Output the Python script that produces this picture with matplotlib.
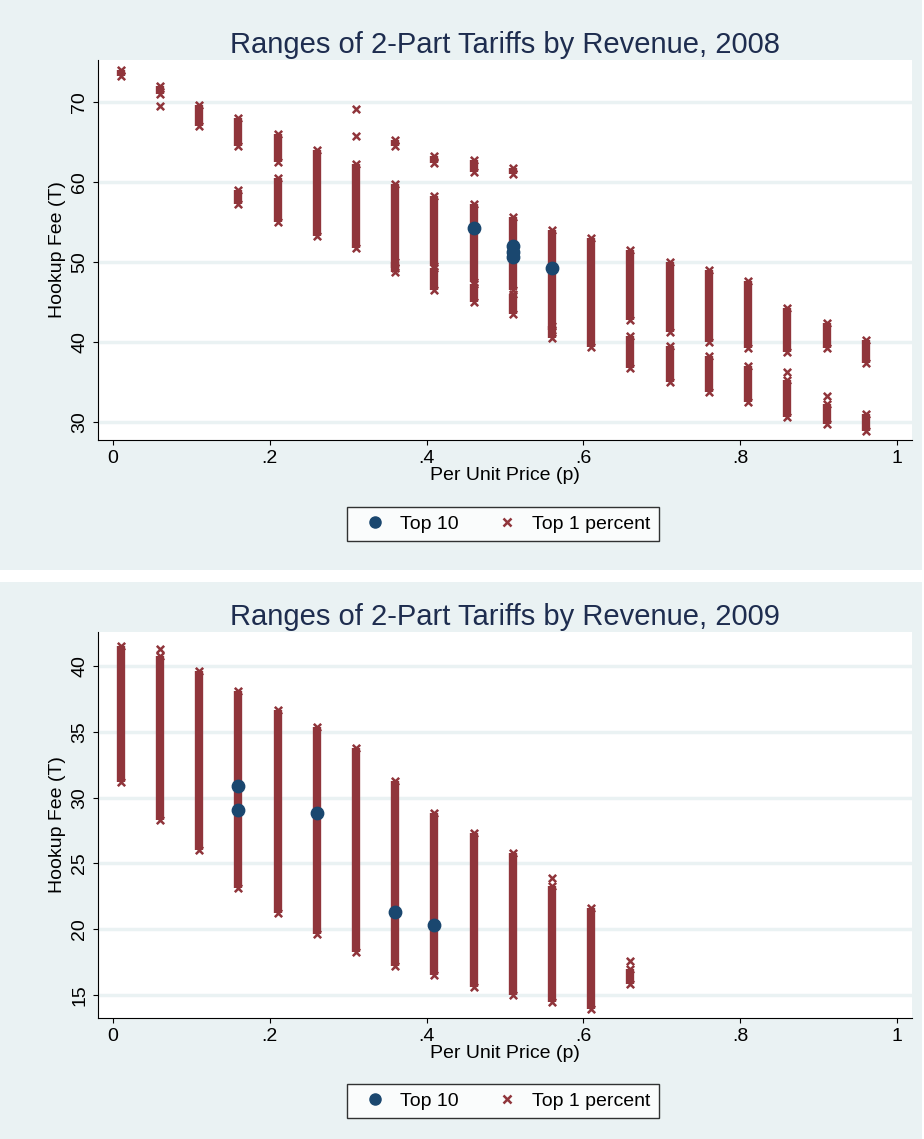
import matplotlib
matplotlib.use("Agg")
import matplotlib.pyplot as plt
from matplotlib.patches import Rectangle
from matplotlib.lines import Line2D

plt.rcParams['font.family'] = ['Liberation Sans', 'DejaVu Sans']

RED = '#90353b'
NAVY = '#1a476f'
BG = '#eaf2f3'

# 2008: ranges (x, ymin, ymax) of Top 1 percent, isolated points, Top 10 points
ranges08 = [(0.01, 73.3, 74.0), (0.06, 71.0, 72.0), (0.11, 67.0, 69.6), (0.16, 64.5, 68.0),
            (0.16, 57.3, 59.0), (0.21, 62.5, 66.0), (0.21, 55.0, 60.5), (0.26, 53.3, 64.0),
            (0.31, 51.7, 62.2), (0.36, 49.2, 59.7), (0.36, 48.8, 50.0), (0.36, 64.5, 65.3),
            (0.41, 49.5, 58.3), (0.41, 46.5, 49.2), (0.41, 62.4, 63.3), (0.46, 47.5, 57.2),
            (0.46, 45.0, 47.2), (0.46, 61.3, 62.8), (0.51, 46.5, 55.6), (0.51, 43.5, 46.0),
            (0.51, 61.0, 61.8), (0.56, 41.5, 54.0), (0.56, 40.5, 42.0), (0.61, 39.4, 53.0),
            (0.66, 42.7, 51.5), (0.66, 36.7, 40.8), (0.71, 41.3, 50.0), (0.71, 35.0, 39.5),
            (0.76, 40.0, 49.0), (0.76, 33.8, 38.3), (0.81, 39.2, 47.6), (0.81, 32.5, 37.0),
            (0.86, 38.7, 44.2), (0.86, 30.6, 35.3), (0.91, 39.3, 42.4), (0.91, 29.7, 32.3),
            (0.96, 37.4, 40.3), (0.96, 28.9, 31.0)]
pts08_x = [0.06, 0.31, 0.31, 0.86, 0.91]
pts08_y = [69.5, 69.1, 65.7, 36.3, 33.3]
top10_08_x = [0.46, 0.51, 0.51, 0.51, 0.56]
top10_08_y = [54.3, 52.0, 51.3, 50.6, 49.3]

ranges09 = [(0.01, 31.2, 41.5), (0.06, 28.3, 40.8), (0.11, 26.0, 39.6), (0.16, 23.1, 38.1),
            (0.21, 21.2, 36.7), (0.26, 19.6, 35.4), (0.31, 18.3, 33.8), (0.36, 17.2, 31.3),
            (0.41, 16.5, 28.8), (0.46, 15.6, 27.3), (0.51, 15.0, 25.8), (0.56, 14.5, 23.3),
            (0.61, 13.9, 21.6), (0.66, 15.8, 17.0)]
pts09_x = [0.06, 0.56, 0.66]
pts09_y = [41.3, 23.9, 17.6]
top10_09_x = [0.16, 0.16, 0.26, 0.36, 0.41]
top10_09_y = [30.9, 29.1, 28.8, 21.3, 20.3]

xticks = [0, 0.2, 0.4, 0.6, 0.8, 1.0]
xticklabels = ['0', '.2', '.4', '.6', '.8', '1']

fig = plt.figure(figsize=(9.24, 11.39), dpi=100)
fig.patch.set_facecolor('white')
fig.patches.append(Rectangle((0, 1 - 570/1139), 922/924, 570/1139, transform=fig.transFigure,
                             facecolor=BG, edgecolor='none', zorder=-10))
fig.patches.append(Rectangle((0, 0), 922/924, (1139 - 582)/1139, transform=fig.transFigure,
                             facecolor=BG, edgecolor='none', zorder=-10))

def panel(rect, ranges, px, py, tx, ty, yticks, ylim, title, legy):
    ax = fig.add_axes(rect)
    ax.set_facecolor('white')
    for x, a, b in ranges:
        ax.vlines(x, a, b, color=RED, lw=6, zorder=2)
        ax.scatter([x, x], [a, b], marker='x', s=28, color=RED, lw=1.8, zorder=2)
    ax.scatter(px, py, marker='x', s=28, color=RED, lw=1.8, zorder=2)
    ax.scatter(tx, ty, marker='o', s=80, color=NAVY, zorder=3)
    ax.set_xlim(-0.019, 1.019)
    ax.set_ylim(*ylim)
    ax.set_xticks(xticks)
    ax.set_xticklabels(xticklabels, fontsize=14)
    ax.set_yticks(yticks)
    ax.set_yticklabels([str(v) for v in yticks], fontsize=14, rotation=90, va='center')
    ax.grid(axis='y', color=BG, lw=2.5, zorder=0)
    ax.set_axisbelow(True)
    for s in ['top', 'right']:
        ax.spines[s].set_visible(False)
    ax.set_xlabel('Per Unit Price (p)', fontsize=14, labelpad=0)
    ax.set_ylabel('Hookup Fee (T)', fontsize=14)
    ax.set_title(title, fontsize=21, color='#1e2d4f', pad=5)
    h = [Line2D([], [], marker='o', ls='', color=NAVY, ms=8),
         Line2D([], [], marker='x', ls='', color=RED, ms=6, mew=1.8)]
    fig.legend(h, ['Top 10', 'Top 1 percent'], loc='center', bbox_to_anchor=(503/924, legy),
               ncol=2, fontsize=14, frameon=True, fancybox=False, edgecolor='black',
               handletextpad=0.3, columnspacing=1.5, borderpad=0.4)
    return ax

panel([98/924, 1 - 440/1139, 814/924, 380/1139], ranges08, pts08_x, pts08_y,
      top10_08_x, top10_08_y, [30, 40, 50, 60, 70], (27.75, 75.25),
      'Ranges of 2-Part Tariffs by Revenue, 2008', 1 - 524/1139)
panel([98/924, 1 - 1018/1139, 814/924, 386/1139], ranges09, pts09_x, pts09_y,
      top10_09_x, top10_09_y, [15, 20, 25, 30, 35, 40], (13.25, 42.6),
      'Ranges of 2-Part Tariffs by Revenue, 2009', 1 - 1101/1139)

fig.savefig('out.png', dpi=100)
